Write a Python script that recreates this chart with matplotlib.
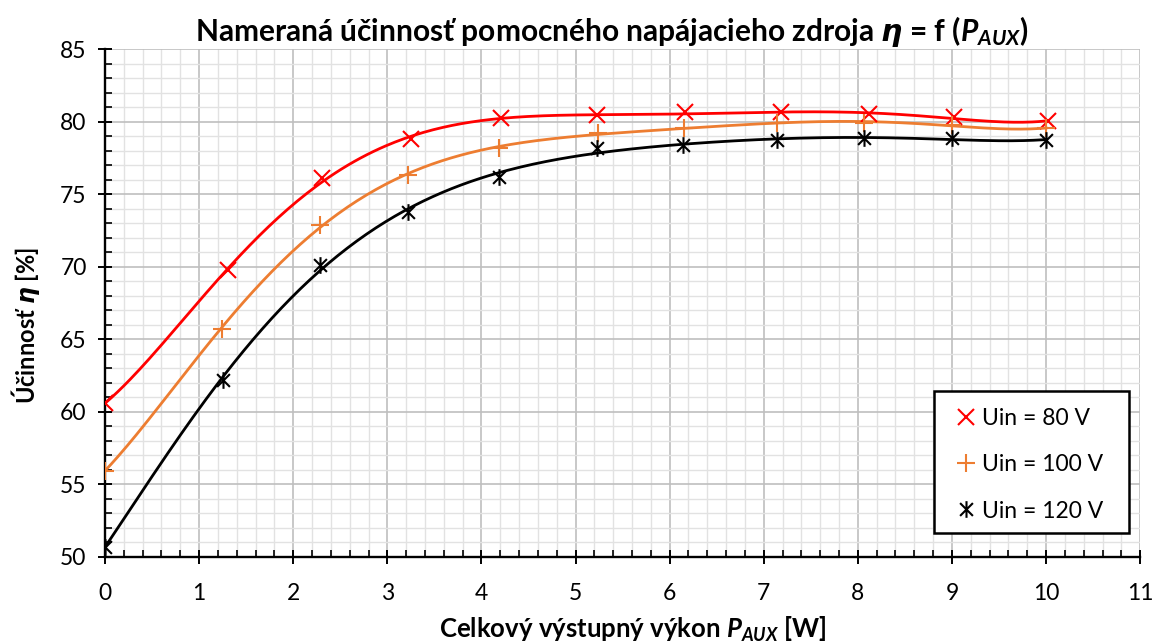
import numpy as np
import matplotlib
matplotlib.use("Agg")
import matplotlib.pyplot as plt
from matplotlib.path import Path
from matplotlib.patches import Rectangle
from matplotlib.ticker import MultipleLocator

plt.rcParams['font.family'] = ['Lato', 'DejaVu Sans']
plt.rcParams['mathtext.fontset'] = 'custom'
plt.rcParams['mathtext.rm'] = 'Lato:bold'
plt.rcParams['mathtext.bf'] = 'Lato:bold'
plt.rcParams['mathtext.it'] = 'Lato:italic:bold'
plt.rcParams['mathtext.bfit'] = 'DejaVu Sans:italic:bold'

# Measured efficiency vs. total output power
p_80 = [0.0, 1.31, 2.31, 3.25, 4.21, 5.23, 6.16, 7.18, 8.12, 9.02, 10.02]
eta_80 = [60.6, 69.8, 76.1, 78.8, 80.25, 80.45, 80.65, 80.65, 80.5, 80.3, 80.05]

p_100 = [0.0, 1.24, 2.28, 3.22, 4.19, 5.24, 6.15, 7.14, 8.07, 9.0, 10.0]
eta_100 = [55.95, 65.7, 72.9, 76.3, 78.2, 79.2, 79.6, 79.9, 79.9, 79.8, 79.55]

p_120 = [0.0, 1.25, 2.28, 3.22, 4.19, 5.23, 6.14, 7.14, 8.07, 9.0, 10.0]
eta_120 = [50.7, 62.2, 70.1, 73.8, 76.2, 78.2, 78.4, 78.75, 78.85, 78.85, 78.75]

labels = ['Uin = 80 V', 'Uin = 100 V', 'Uin = 120 V']
colors = ['#FF0000', '#ED7D31', '#000000']
TREND_DEG = 6


def trend(x, y, deg=TREND_DEG, n=300):
    """Polynomial trendline over the measured range."""
    coef = np.polyfit(x, y, deg)
    xs = np.linspace(min(x), max(x), n)
    return xs, np.polyval(coef, xs)


star = Path([(-1, -1), (1, 1), (-1, 1), (1, -1), (0, -1.3), (0, 1.3)],
            [Path.MOVETO, Path.LINETO, Path.MOVETO, Path.LINETO, Path.MOVETO, Path.LINETO])
markers = ['x', '+', star]
msizes = [12, 13, 12]

fig = plt.figure(figsize=(11.67, 6.43), dpi=100)
ax = fig.add_axes([0.090, 0.134, 0.887, 0.7895])

series = [(p_80, eta_80), (p_100, eta_100), (p_120, eta_120)]
handles = []
for (x, y), c, m, ms, lab in zip(series, colors, markers, msizes, labels):
    tx, ty = trend(x, y)
    ax.plot(tx, ty, color=c, lw=2.0, zorder=3)
    h, = ax.plot(x, y, linestyle='none', marker=m, ms=ms, mew=1.5, color=c, zorder=4, label=lab)
    handles.append(h)

ax.set_xlim(0, 11)
ax.set_ylim(50, 85)
ax.xaxis.set_major_locator(MultipleLocator(1))
ax.xaxis.set_minor_locator(MultipleLocator(0.2))
ax.yaxis.set_major_locator(MultipleLocator(5))
ax.yaxis.set_minor_locator(MultipleLocator(1))
ax.grid(which='major', color='#BFBFBF', lw=1.2, zorder=1)
ax.grid(which='minor', color='#E2E2E2', lw=1.0, zorder=0)
ax.set_axisbelow(True)

for s in ['top', 'right']:
    ax.spines[s].set_visible(False)
for s in ['left', 'bottom']:
    ax.spines[s].set_linewidth(1.7)
    ax.spines[s].set_color('black')

ax.tick_params(which='major', direction='inout', length=9.5, width=1.4, labelsize=16.5)
ax.tick_params(axis='x', which='major', pad=14)
ax.tick_params(axis='y', which='major', pad=8.5)
ax.tick_params(which='minor', direction='in', length=5, width=1.2)

ax.set_title('Nameraná účinnosť pomocného napájacieho zdroja $\\mathbfit{\\eta}$ = f ($\\mathit{P}_{AUX}$)',
             fontsize=21.5, fontweight='bold', pad=6, x=0.49)
ax.set_xlabel('Celkový výstupný výkon $\\mathit{P}_{AUX}$ [W]', fontsize=18.5, fontweight='bold')
ax.set_ylabel('Účinnosť $\\mathbfit{\\eta}$ [%]', fontsize=17, fontweight='bold')
ax.xaxis.set_label_coords(0.51, -0.115)
ax.yaxis.set_label_coords(-0.061, 0.455)


def ax_x(px):
    return (px - 105.0) / 1035.0


def ax_y(py):
    return (556.7 - py) / 507.5


# legend box
ax.add_patch(Rectangle((ax_x(934), ax_y(533)), ax_x(1129) - ax_x(934), ax_y(391) - ax_y(533),
                       transform=ax.transAxes, facecolor='white', edgecolor='black',
                       lw=1.8, zorder=5))
leg = ax.legend(handles=handles, loc='upper left', bbox_to_anchor=(ax_x(954), ax_y(408)),
                borderaxespad=0, borderpad=0, fontsize=16.5, frameon=False,
                handlelength=1.0, handletextpad=0.2, labelspacing=1.1, numpoints=1)
leg.set_zorder(6)

fig.savefig('out.png', dpi=100)
